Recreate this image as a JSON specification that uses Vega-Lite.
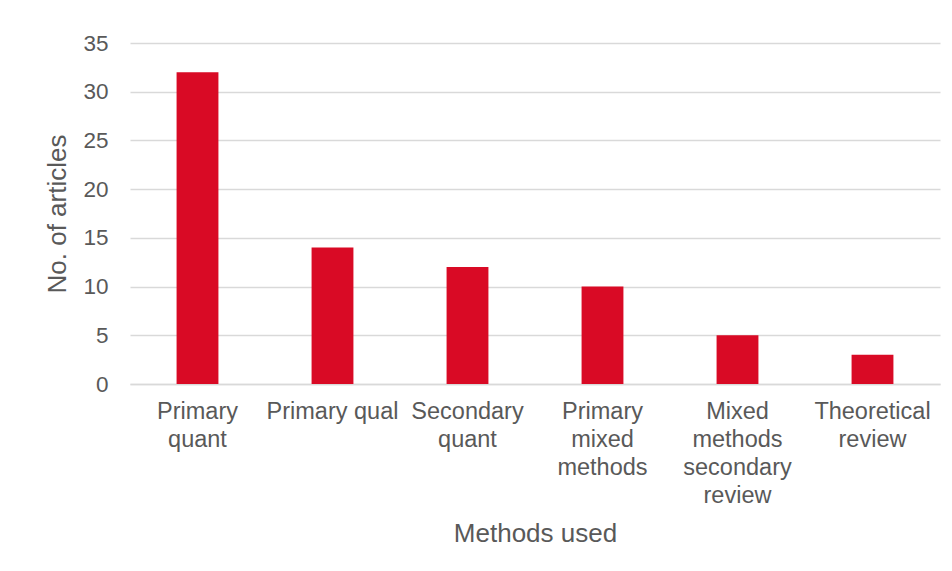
{
  "$schema": "https://vega.github.io/schema/vega-lite/v6.json",
  "autosize": {"type": "none"},
  "width": 810,
  "height": 341,
  "padding": {"left": 130, "top": 43, "right": 12, "bottom": 187},
  "background": "white",
  "data": {"values": [
    {"method": "Primary quant", "articles": 32},
    {"method": "Primary qual", "articles": 14},
    {"method": "Secondary quant", "articles": 12},
    {"method": "Primary mixed methods", "articles": 10},
    {"method": "Mixed methods secondary review", "articles": 5},
    {"method": "Theoretical review", "articles": 3}
  ]},
  "mark": {"type": "bar", "color": "#D90A25"},
  "encoding": {
    "x": {
      "field": "method", "type": "nominal", "sort": null,
      "scale": {"paddingInner": 0.69, "paddingOuter": 0.345},
      "axis": {
        "title": "Methods used",
        "labelAngle": 0,
        "labelExpr": "datum.value == 'Primary qual' ? datum.value : split(datum.value, ' ')",
        "labelLineHeight": 28,
        "labelFontSize": 23.5,
        "labelColor": "#595959",
        "labelFont": "Liberation Sans",
        "labelPadding": 15,
        "labelBaseline": "top",
        "ticks": false,
        "domainColor": "#D9D9D9",
        "domainWidth": 1.5,
        "titleFontSize": 26,
        "titleFontWeight": "normal",
        "titleColor": "#595959",
        "titleFont": "Liberation Sans",
        "titlePadding": 14
      }
    },
    "y": {
      "field": "articles", "type": "quantitative",
      "scale": {"domain": [0, 35]},
      "axis": {
        "title": "No. of articles",
        "values": [0, 5, 10, 15, 20, 25, 30, 35],
        "domain": false,
        "ticks": false,
        "gridColor": "#D9D9D9",
        "gridWidth": 1.5,
        "labelFontSize": 22.5,
        "labelColor": "#595959",
        "labelFont": "Liberation Sans",
        "labelPadding": 22,
        "titleFontSize": 26,
        "titleFontWeight": "normal",
        "titleColor": "#595959",
        "titleFont": "Liberation Sans",
        "titlePadding": 12
      }
    }
  },
  "config": {"view": {"stroke": null}}
}
